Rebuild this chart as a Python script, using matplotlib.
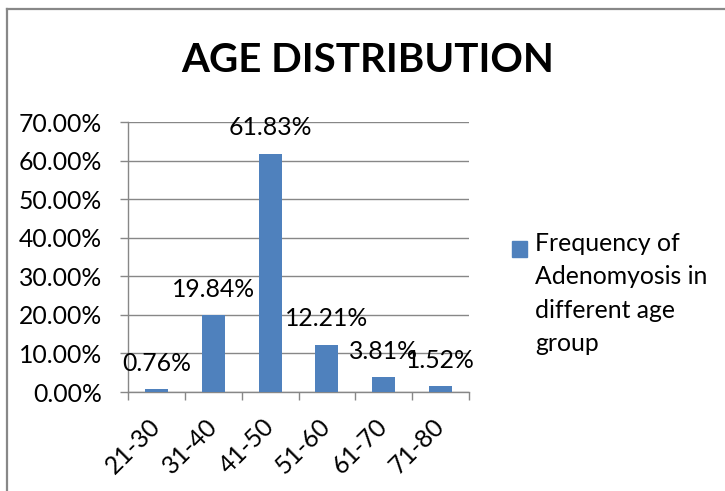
import matplotlib
matplotlib.use("Agg")
import matplotlib.pyplot as plt
from matplotlib.lines import Line2D
from matplotlib.patches import Patch, Rectangle
from matplotlib.legend_handler import HandlerPatch
from matplotlib.ticker import MultipleLocator, FuncFormatter

# Data
age_groups = ["21-30", "31-40", "41-50", "51-60", "61-70", "71-80"]
frequency_pct = [0.76, 19.84, 61.83, 12.21, 3.81, 1.52]
series_name = "Frequency of\nAdenomyosis in\ndifferent age\ngroup"
chart_title = "AGE DISTRIBUTION"

BAR_COLOR = "#4F81BD"
GRID_COLOR = "#878787"
FONT = ["Lato", "DejaVu Sans"]
FS = 17.8
LEGEND_LINESPACING = 1.55

W, H = 725, 491
fig = plt.figure(figsize=(W / 100, H / 100), dpi=100)
plt.rcParams["font.family"] = FONT

# Chart frame (left and top edges)
fig.add_artist(Line2D([7 / W, 7 / W], [0, 1 - 9 / H], transform=fig.transFigure,
                      color="#888888", lw=1.6))
fig.add_artist(Line2D([7 / W, 1], [1 - 9 / H, 1 - 9 / H], transform=fig.transFigure,
                      color="#888888", lw=1.6))

left, right = 128 / W, 469 / W
bottom, top = 1 - 392 / H, 1 - 122 / H
ax = fig.add_axes([left, bottom, right - left, top - bottom])

x = list(range(len(age_groups)))
ax.bar(x, frequency_pct, width=0.405, color=BAR_COLOR, zorder=3,
       label=series_name)

ax.set_xlim(-0.5, len(age_groups) - 0.5)
ax.set_ylim(0, 70)
ax.yaxis.set_major_locator(MultipleLocator(10))
ax.yaxis.set_major_formatter(FuncFormatter(lambda v, p: f"{v:.2f}%"))
ax.grid(axis="y", color=GRID_COLOR, lw=1.0, zorder=0)

for s in ["top", "right"]:
    ax.spines[s].set_visible(False)
for s in ["left", "bottom"]:
    ax.spines[s].set_color(GRID_COLOR)
    ax.spines[s].set_linewidth(1.0)

# Category boundary ticks on x axis, labels centred under each bar
ax.set_xticks([i - 0.5 for i in range(len(age_groups) + 1)])
ax.set_xticklabels([])
ax.set_xticks(x, minor=True)
ax.set_xticklabels(age_groups, minor=True, rotation=45, ha="right",
                   va="center", rotation_mode="anchor", fontsize=FS)
ax.tick_params(axis="x", which="major", length=5.8, width=1.0, color=GRID_COLOR)
ax.tick_params(axis="x", which="minor", length=0, pad=22)
ax.tick_params(axis="y", length=5.8, width=1.0, color=GRID_COLOR, labelsize=FS,
               pad=13)

# Value labels above bars
for xi, v in zip(x, frequency_pct):
    ax.annotate(f"{v:.2f}%", (xi, v), xytext=(0, 26), textcoords="offset pixels",
                ha="center", va="center", fontsize=FS, zorder=4)

fig.text(367.5 / W, 1 - 60.5 / H, chart_title, ha="center", va="center",
         fontsize=29, fontweight="bold")


# Legend key sits beside the first line of the wrapped label
def top_line_patch(legend, orig_handle, xdescent, ydescent, width, height, fontsize):
    n_lines = series_name.count("\n") + 1
    step = fontsize * 0.75 * LEGEND_LINESPACING
    shift = 0.5 * (n_lines - 1) * step + 0.1 * fontsize
    return Rectangle((-xdescent, -ydescent + shift), width, height)


leg = fig.legend(handles=[Patch(color=BAR_COLOR, label=series_name)],
                 handler_map={Patch: HandlerPatch(patch_func=top_line_patch)},
                 loc="upper left", bbox_to_anchor=(512 / W, 1 - 232 / H),
                 frameon=False, fontsize=FS, handlelength=0.6, handleheight=0.6,
                 handletextpad=0.33, borderpad=0, borderaxespad=0)
for t in leg.get_texts():
    t.set_linespacing(LEGEND_LINESPACING)

fig.savefig("out.png", dpi=100)
